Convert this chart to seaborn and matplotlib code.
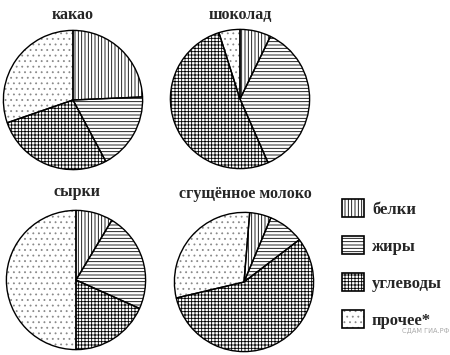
import matplotlib
matplotlib.use('Agg')
import matplotlib.pyplot as plt
import seaborn as sns
from matplotlib.patches import Patch
from matplotlib.legend_handler import HandlerTuple

# data (percent, clockwise from the top)
products = ['какао', 'шоколад', 'сырки', 'сгущённое молоко']
components = ['белки', 'жиры', 'углеводы', 'прочее*']
cocoa = [24.3, 17.9, 27.5, 30.3]
chocolate = [7.2, 36.2, 51.7, 4.9]
curds = [8.6, 23.1, 18.3, 50.0]
condensed = [5.0, 8.3, 56.7, 30.0]

sns.set_theme(style='white')
plt.rcParams['font.family'] = ['Liberation Serif', 'DejaVu Serif']
plt.rcParams['hatch.linewidth'] = 0.6

hatches = ['|||||', '-----', '+++++', '...']
hatch_colors = ['black', 'black', 'black', '#8a8a8a']
W, H = 450, 355
fig = plt.figure(figsize=(W / 100, H / 100), dpi=100)

# pixel layout: pie centres, radius, title positions, start angle offsets
centres = [(73, 100), (240, 99), (76, 280), (244, 282)]
radius = 71
title_pos = [(73, 15), (240, 15), (77, 192), (245, 194)]
start_offset = [0, 0, 0, 4.7]

for vals, name, (cx, cy), (tx, ty), off in zip(
        [cocoa, chocolate, curds, condensed], products, centres, title_pos, start_offset):
    ax = fig.add_axes([(cx - radius) / W, 1 - (cy + radius) / H,
                       2 * radius / W, 2 * radius / H])
    # hatched fill (hatch colour follows edge colour)
    wedges, _ = ax.pie(vals, startangle=90 - off, counterclock=False,
                       colors=['white'] * 4,
                       wedgeprops=dict(linewidth=0))
    for w, h, c in zip(wedges, hatches, hatch_colors):
        w.set_hatch(h)
        w.set_edgecolor(c)
    # black outlines on top
    ax.pie(vals, startangle=90 - off, counterclock=False,
           wedgeprops=dict(fill=False, edgecolor='black', linewidth=1.0))
    ax.set_xlim(-1.02, 1.02)
    ax.set_ylim(-1.02, 1.02)
    fig.text(tx / W, 1 - ty / H, name, ha='center', va='center',
             fontsize=11.5, fontweight='bold')

# legend boxes: hatched patch with a black frame laid over it
handles = [(Patch(facecolor='white', edgecolor=c, hatch=h, linewidth=0),
            Patch(facecolor='none', edgecolor='black', linewidth=1.2))
           for h, c in zip(hatches, hatch_colors)]
fig.legend(handles, components, loc='upper left',
           handler_map={tuple: HandlerTuple(ndivide=1, pad=0)},
           bbox_to_anchor=(342 / W, 1 - 199 / H), frameon=False,
           prop=dict(size=12, weight='bold'),
           handlelength=1.3, handleheight=1.3, handletextpad=0.5,
           labelspacing=1.1, borderpad=0, borderaxespad=0)

fig.text(426 / W, 1 - 331 / H, 'СДАМ ГИА.РФ', fontsize=4.8, color='#aaaaaa',
         ha='center', va='center', family='DejaVu Sans')

fig.savefig('out.png', dpi=100)
